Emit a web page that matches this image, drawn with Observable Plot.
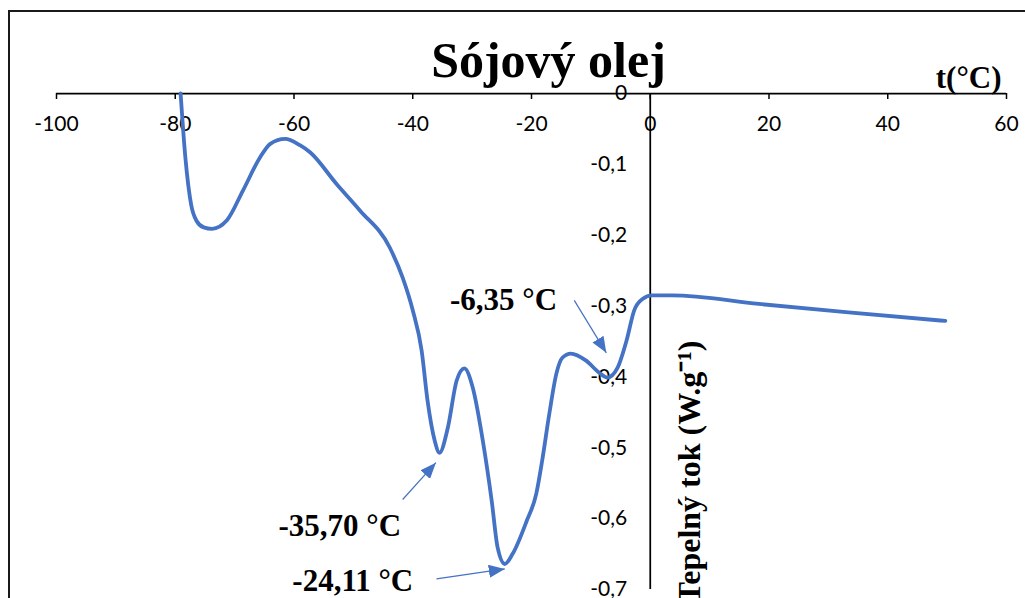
<!DOCTYPE html>
<html><head><meta charset="utf-8">
<script src="https://cdn.jsdelivr.net/npm/d3@7"></script>
<script src="https://cdn.jsdelivr.net/npm/@observablehq/plot@0.6"></script>
<style>
html,body{margin:0;padding:0;background:#fff;overflow:hidden;}
#wrap{position:relative;width:1025px;height:598px;overflow:hidden;}
#wrap svg{position:absolute;left:0;top:0;}
#border{position:absolute;left:8px;top:10px;width:2000px;height:2000px;border-left:2px solid #1a1a1a;border-top:2px solid #1a1a1a;pointer-events:none;}
</style></head><body><div id="wrap"><div id="border"></div></div>
<script>
// DSC curve of soybean oil: temperature (°C) and heat flow (W/g)
const temps = [-79.1, -78.3, -77.3, -76.4, -75.2, -73.8, -71.3, -68.6, -65.7, -64.0, -61.5, -59.0, -57.3, -52.8, -48.9, -43.9,
  -41.7, -40.0, -38.5, -37.5, -36.3, -35.5, -34.1, -32.6, -31.3, -29.9, -28.2, -26.7, -25.7, -24.5, -23.2,
  -20.8, -19.2, -18.2, -17.0, -15.8, -14.8, -13.4, -10.8, -8.6, -7.2, -5.5, -4.0, -2.7, -1.3, 0.3, 3.7, 18.3, 33.4, 49.7];
const flows = [0, -0.090, -0.158, -0.180, -0.189, -0.191, -0.179, -0.137, -0.090, -0.071, -0.064, -0.073, -0.083, -0.128, -0.165, -0.217,
  -0.260, -0.306, -0.363, -0.434, -0.490, -0.507, -0.472, -0.405, -0.388, -0.415, -0.490, -0.575, -0.641, -0.664, -0.650,
  -0.603, -0.565, -0.518, -0.452, -0.395, -0.373, -0.367, -0.377, -0.394, -0.401, -0.387, -0.349, -0.306, -0.290, -0.285, -0.285, -0.297, -0.309, -0.321];

const xTickValues = [-100, -80, -60, -40, -20, 0, 20, 40, 60];
const yTickValues = [0, -0.1, -0.2, -0.3, -0.4, -0.5, -0.6, -0.7];

const chartTitle = "Sójový olej";
const xTitle = "t(°C)";
const yTitle = "Tepelný tok (W.g⁻¹)";

// peak annotations (data coordinates)
const peakLabels = ["-6,35 °C", "-35,70 °C", "-24,11 °C"];
const labelT = [-24.7, -52.3, -50.1];
const labelV = [-0.292, -0.610, -0.688];
const arrowFromT = [-12.8, -41.7, -36.0];
const arrowFromV = [-0.292, -0.573, -0.685];
const arrowToT = [-7.4, -36.1, -24.5];
const arrowToV = [-0.366, -0.521, -0.671];

const blue = "#4472C4";
const serif = "'Liberation Serif', 'Times New Roman', serif";
const sans = "Lato, 'Open Sans', sans-serif";

const curve = temps.map((t, i) => ({t, v: flows[i]}));
const idx = peakLabels.map((d, i) => i);

const svgNS = "http://www.w3.org/2000/svg";
function filledHead(color, context) {
  const doc = (context && context.document) || document;
  const m = doc.createElementNS(svgNS, "marker");
  m.setAttribute("viewBox", "0 -6.5 16 13");
  m.setAttribute("refX", "16");
  m.setAttribute("refY", "0");
  m.setAttribute("markerWidth", "16");
  m.setAttribute("markerHeight", "13");
  m.setAttribute("markerUnits", "userSpaceOnUse");
  m.setAttribute("orient", "auto");
  const p = doc.createElementNS(svgNS, "path");
  p.setAttribute("d", "M0,-6.5L16,0L0,6.5Z");
  p.setAttribute("fill", color);
  p.setAttribute("stroke", "none");
  m.appendChild(p);
  return m;
}

const chart = Plot.plot({
  width: 1025,
  height: 598,
  marginLeft: 56,
  marginRight: 19,
  marginTop: 93,
  marginBottom: 9,
  x: {domain: [-100, 60], axis: null},
  y: {domain: [-0.7, 0], axis: null},
  style: {background: "transparent", fontFamily: sans, overflow: "visible"},
  marks: [
    Plot.ruleY([0], {stroke: "#000", strokeWidth: 1.75}),
    Plot.ruleX(xTickValues, {x: d => d, y1: 0, y2: 0, insetBottom: -6, stroke: "#000", strokeWidth: 1.5}),
    Plot.ruleX([0], {stroke: "#000", strokeWidth: 1.75}),
    Plot.text(xTickValues, {x: d => d, y: 0, dy: 31, text: d => String(d), fontSize: 21, fill: "#000", fontFamily: sans}),
    Plot.text(yTickValues, {x: 0, y: d => d, dx: -23, textAnchor: "end",
      text: d => d === 0 ? "0" : d.toFixed(1).replace(".", ","), fontSize: 21, fill: "#000", fontFamily: sans}),
    Plot.text([chartTitle], {frameAnchor: "top", dx: 17, dy: -17, lineAnchor: "bottom",
      fontFamily: serif, fontWeight: "bold", fontSize: 50, fill: "#000"}),
    Plot.text([xTitle], {frameAnchor: "top-right", dx: -5, dy: -6, textAnchor: "end", lineAnchor: "bottom",
      fontFamily: serif, fontWeight: "bold", fontSize: 31, fill: "#000"}),
    Plot.text([yTitle], {x: 0, frameAnchor: "top", dx: 50, dy: 247, rotate: -90, textAnchor: "end", lineAnchor: "bottom",
      fontFamily: serif, fontWeight: "bold", fontSize: 32, fill: "#000"}),
    Plot.text(peakLabels, {x: (d, i) => labelT[i], y: (d, i) => labelV[i], text: d => d,
      fontFamily: serif, fontWeight: "bold", fontSize: 31, fill: "#000"}),
    Plot.link(idx, {x1: i => arrowFromT[i], y1: i => arrowFromV[i], x2: i => arrowToT[i], y2: i => arrowToV[i],
      stroke: blue, strokeWidth: 1.2, markerEnd: filledHead}),
    Plot.line(curve, {x: "t", y: "v", stroke: blue, strokeWidth: 3.8, curve: "monotone-x"})
  ]
});
document.getElementById("wrap").insertBefore(chart, document.getElementById("border"));
</script>
</body></html>
